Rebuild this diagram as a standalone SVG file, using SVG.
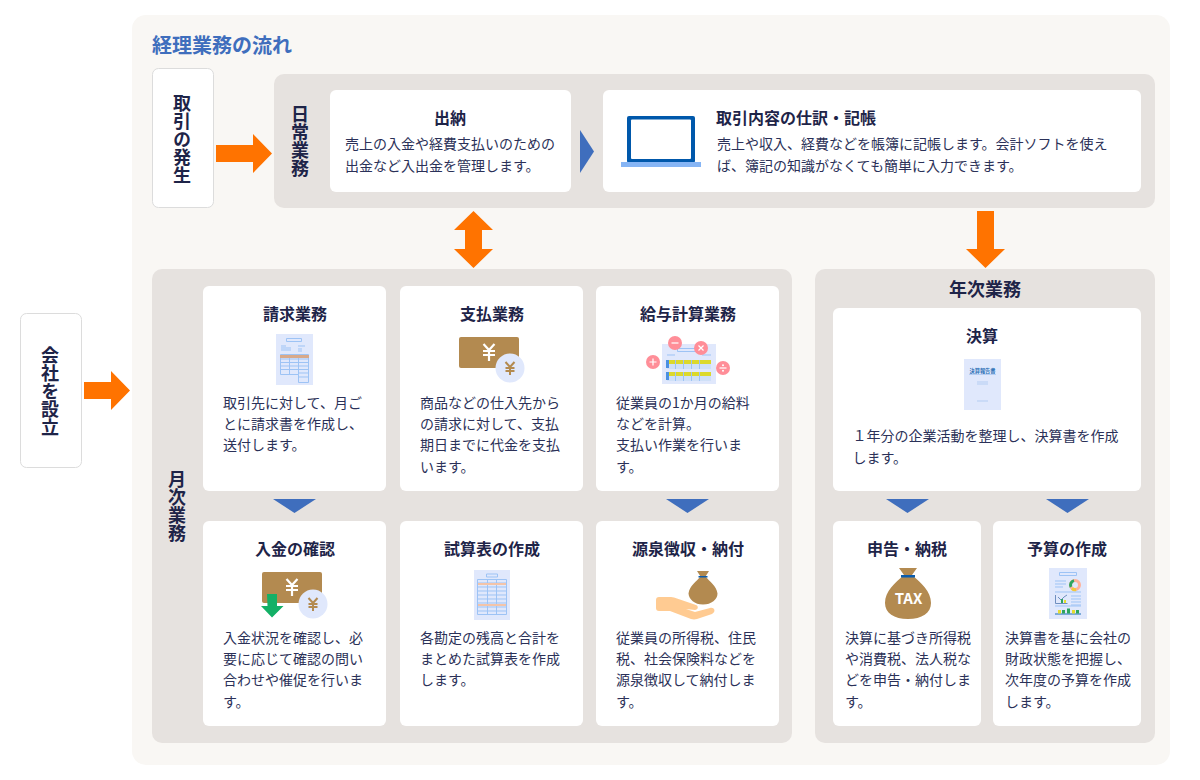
<svg xmlns="http://www.w3.org/2000/svg" width="1200" height="780" viewBox="0 0 1200 780">
<style>
text{font-family:"Noto Sans CJK JP","Noto Sans",sans-serif;fill:#1e2448}
.t{font-size:16px;font-weight:700;text-anchor:middle}
.b{font-size:14px;fill:#2b3158}
.v{font-size:18px;font-weight:700;writing-mode:vertical-rl;text-anchor:middle}
.card{fill:#fff}
.panel{fill:#e6e2df}
.lab{fill:#fff;stroke:#dcdcdc;stroke-width:1}
.org{fill:#ff7300}
.blu{fill:#3f6ebd}
.doc{fill:#e0e8fc}
.ln{stroke:#9dc3f5;stroke-width:1;fill:none}
.yw{stroke:#fff;stroke-width:2.200;fill:none}
.yb{stroke:#b38a50;stroke-width:2;fill:none}
.br{fill:#b38a50}
.pk{fill:#ff8e98}
.pw{stroke:#fff;stroke-width:1.200;fill:none}
</style>
<rect width="1200" height="780" fill="#fff"/>
<rect id="bg" x="132" y="15" width="1038" height="750" rx="14" fill="#f9f7f4"/>
<text id="heading" x="152" y="53" font-size="20" font-weight="700" style="fill:#3f6ebd">経理業務の流れ</text>

<g id="node-occur"><rect class="lab" x="152.500" y="68.500" width="61" height="139" rx="6"/><text class="v" x="182" y="139">取引の発生</text></g>
<g id="node-company"><rect class="lab" x="20.500" y="313.500" width="61" height="154" rx="6"/><text class="v" x="50" y="391">会社を設立</text></g>

<g id="panel-daily"><rect class="panel" x="274" y="74" width="881" height="134" rx="10"/><text class="v" x="300" y="141">日常業務</text></g>
<g id="panel-monthly"><rect class="panel" x="152" y="269" width="640" height="474" rx="10"/><text class="v" x="177" y="506">月次業務</text></g>
<g id="panel-annual"><rect class="panel" x="815" y="269" width="340" height="474" rx="10"/><text x="985" y="296" font-size="18" font-weight="700" text-anchor="middle">年次業務</text></g>

<g id="node-cash"><rect class="card" x="330" y="90" width="241" height="102" rx="6"/>
<text class="t" x="450" y="124">出納</text>
<text class="b" x="345" y="149">売上の入金や経費支払いのための</text><text class="b" x="345" y="171">出金など入出金を管理します。</text></g>

<g id="node-journal"><rect class="card" x="603" y="90" width="538" height="102" rx="6"/>
<rect x="627" y="116" width="68" height="47" rx="2" fill="#0058ab"/>
<rect x="631" y="119.500" width="60" height="39.500" rx="1" fill="#fff"/>
<rect x="621" y="162" width="80" height="5" fill="#86b5f5"/>
<text class="t" x="716" y="124" style="text-anchor:start">取引内容の仕訳・記帳</text>
<text class="b" x="717" y="149">売上や収入、経費などを帳簿に記帳します。会計ソフトを使え</text><text class="b" x="717" y="171">ば、簿記の知識がなくても簡単に入力できます。</text></g>

<g id="node-invoice"><rect class="card" x="203" y="286" width="183" height="205" rx="6"/>
<text class="t" x="295" y="320">請求業務</text>
<rect class="doc" x="276" y="334" width="37" height="51"/>
<path class="ln" d="M286.500 338.500h15v3h-15zM281 346h5M281 348h10M281 350h10M298 346h7M298 349h4M298 351h4M280.500 354.500h28v28h-10v-8M280.500 354.500v20h18M280.500 359h28M280.500 362.500h28M280.500 366h28M280.500 369.500h28M298.500 373h10M298.500 377h10M289.500 354.500v20M298.500 354.500v20"/>
<rect x="280" y="355" width="29" height="3" fill="#d8a98a"/>
<text class="b" x="223" y="408">取引先に対して、月ご</text><text class="b" x="223" y="429">とに請求書を作成し、</text><text class="b" x="223" y="450">送付します。</text></g>

<g id="node-payment"><rect class="card" x="400" y="286" width="183" height="205" rx="6"/>
<text class="t" x="492" y="320">支払業務</text>
<rect class="br" x="459" y="337" width="60" height="31" rx="2"/>
<path class="yw" d="M483.500 344l5.500 6 5.500-6M489 350v11M483 351h12M483 355h12"/>
<circle cx="510" cy="368" r="14.500" fill="#e0e8fc"/>
<path class="yb" d="M505.500 362l4.500 5 4.500-5M510 367v8M505.500 368h9M505.500 371h9"/>
<text class="b" x="420" y="408">商品などの仕入先から</text><text class="b" x="420" y="429">の請求に対して、支払</text><text class="b" x="420" y="450">期日までに代金を支払</text><text class="b" x="420" y="472">います。</text></g>

<g id="node-salary"><rect class="card" x="596" y="286" width="183" height="205" rx="6"/>
<text class="t" x="688" y="320">給与計算業務</text>
<rect class="doc" x="662" y="344" width="54" height="40"/>
<path class="ln" d="M677.500 348.500h20v3h-20zM667 355h8M702 355h9"/>
<rect x="667" y="360" width="44" height="9" fill="#cfe0f8"/><rect x="667" y="360" width="44" height="4" fill="#dcd92c"/><rect x="666" y="360" width="3" height="8" fill="#4a90e2"/>
<rect x="667" y="372" width="44" height="9" fill="#cfe0f8"/><rect x="667" y="372" width="44" height="4" fill="#dcd92c"/><rect x="666" y="372" width="3" height="8" fill="#4a90e2"/>
<path class="ln" d="M675.500 360v9M683.500 360v9M691.500 360v9M699.500 360v9M675.500 372v9M683.500 372v9M691.500 372v9M699.500 372v9"/>
<circle class="pk" cx="675" cy="343" r="7"/><path class="pw" d="M671.500 343h7"/>
<circle class="pk" cx="701" cy="348" r="7"/><path class="pw" d="M698.500 345.500l5 5M703.500 345.500l-5 5"/>
<circle class="pk" cx="653" cy="362" r="7"/><path class="pw" d="M649.500 362h7M653 358.500v7"/>
<circle class="pk" cx="723" cy="368" r="7"/><path class="pw" d="M719.500 368h7"/><circle cx="723" cy="365.300" r="1" fill="#fff"/><circle cx="723" cy="370.700" r="1" fill="#fff"/>
<text class="b" x="616" y="408">従業員の1か月の給料</text><text class="b" x="616" y="429">などを計算。</text><text class="b" x="616" y="450">支払い作業を行いま</text><text class="b" x="616" y="472">す。</text></g>

<g id="node-receipt"><rect class="card" x="203" y="521" width="183" height="205" rx="6"/>
<text class="t" x="295" y="555">入金の確認</text>
<rect class="br" x="262" y="572" width="60" height="31" rx="2"/>
<path class="yw" d="M286.500 579l5.500 6 5.500-6M292 585v11M286 586h12M286 590h12"/>
<circle cx="313" cy="604" r="14.500" fill="#e0e8fc"/>
<path class="yb" d="M308.500 598l4.500 5 4.500-5M313 603v8M308.500 604h9M308.500 607h9"/>
<path fill="#14b066" d="M267 594h10v12h6.500l-11.500 11.500-11-11.500h6.500z"/>
<text class="b" x="223" y="643">入金状況を確認し、必</text><text class="b" x="223" y="664">要に応じて確認の問い</text><text class="b" x="223" y="685">合わせや催促を行いま</text><text class="b" x="223" y="707">す。</text></g>

<g id="node-trial"><rect class="card" x="400" y="521" width="183" height="205" rx="6"/>
<text class="t" x="492" y="555">試算表の作成</text>
<rect class="doc" x="474" y="570" width="36" height="50"/>
<path class="ln" d="M486.500 574h11v3h-11zM477.500 579.500h29v35h-29zM477.500 583h29M477.500 587h29M477.500 591h29M477.500 595h29M477.500 599h29M477.500 603h29M477.500 607h29M477.500 611h29M487.500 579.500v35M496.500 579.500v35"/>
<rect x="478" y="583" width="28" height="2" fill="#f4c4a8"/><rect x="478" y="604" width="28" height="2" fill="#f4c4a8"/>
<text class="b" x="420" y="643">各勘定の残高と合計を</text><text class="b" x="420" y="664">まとめた試算表を作成</text><text class="b" x="420" y="685">します。</text></g>

<g id="node-withhold"><rect class="card" x="596" y="521" width="183" height="205" rx="6"/>
<text class="t" x="688" y="555">源泉徴収・納付</text>
<path class="br" d="M697 571h12l-3.500 5.500c4 5 11 9 12 17 0 6-6 11-14.500 11s-14-5-14.500-11c1-8 8-12 12-17z"/>
<rect x="698.500" y="576" width="9" height="1.500" fill="#0b5cad"/>
<path fill="#ffcb92" d="M659 597h12c2 0 4 .5 6 1.500l19 6.500c3 1 2 5-1 5l-9-1 9 3 15-4c5-1 6 4 2 6l-15 5c-2 .5-4 .5-6 0l-21-8h-11c-2 0-3-1-3-3v-8c0-2 1-3 3-3z"/>
<text class="b" x="616" y="643">従業員の所得税、住民</text><text class="b" x="616" y="664">税、社会保険料などを</text><text class="b" x="616" y="685">源泉徴収して納付しま</text><text class="b" x="616" y="707">す。</text></g>

<g id="node-closing"><rect class="card" x="833" y="308" width="308" height="183" rx="6"/>
<text class="t" x="982" y="342">決算</text>
<rect class="doc" x="964" y="359" width="37" height="51"/>
<text x="982.500" y="373" font-size="5.200" font-weight="700" text-anchor="middle" style="fill:#2a6fb5">決算報告書</text>
<path stroke="#b4cdf2" stroke-width="1" d="M969 374.500h27M977 382h11M977 384h11M977 401h11" fill="none"/>
<text class="b" x="852.500" y="441">１年分の企業活動を整理し、決算書を作成</text><text class="b" x="852.500" y="463">します。</text></g>

<g id="node-tax"><rect class="card" x="833" y="521" width="148" height="205" rx="6"/>
<text class="t" x="907" y="555">申告・納税</text>
<path class="br" d="M899 568h18l-5 7c9 8 19 16 19 28 0 10-9 16-23 16s-23-6-23-16c0-12 10-20 19-28z"/>
<rect x="901" y="575" width="14" height="2.500" fill="#0b5cad"/>
<text x="908.500" y="604" font-size="15" font-weight="700" text-anchor="middle" style="fill:#fff">TAX</text>
<text class="b" x="845" y="643">決算に基づき所得税</text><text class="b" x="845" y="664">や消費税、法人税な</text><text class="b" x="845" y="685">どを申告・納付しま</text><text class="b" x="845" y="707">す。</text></g>

<g id="node-budget"><rect class="card" x="993" y="521" width="148" height="205" rx="6"/>
<text class="t" x="1067" y="555">予算の作成</text>
<rect class="doc" x="1049" y="568" width="38" height="51"/>
<path class="ln" d="M1059.500 572.500h17v3h-17zM1055 581h11M1055 584h11M1055 587h8M1055 592h26M1071 596h10M1071 599h10M1071 602h10M1071 605h10M1055 606h26"/>
<circle cx="1075" cy="585" r="4.500" fill="none" stroke="#ffb199" stroke-width="3"/>
<path d="M1071 587a4.500 4.500 0 0 1 3-6.400" fill="none" stroke="#2ea55f" stroke-width="3"/>
<path d="M1072 588.500a4.500 4.500 0 0 0 4 1" fill="none" stroke="#f2c83a" stroke-width="3"/>
<path d="M1055.500 595v8.500h12" fill="none" stroke="#6f8fbf"/>
<path d="M1058 597l3 3 3-3 3-2" fill="none" stroke="#6f8fbf"/>
<path d="M1061 599h2v4h-2z" fill="#2ea55f"/><path d="M1064 600h2v3h-2z" fill="#e6dc2e"/>
<path d="M1055 614h26" stroke="#1b6fb8" stroke-width="1"/>
<path d="M1058 610h3v3.500h-3zM1072 610h3v3.500h-3z" fill="#e6dc2e"/><path d="M1062 610h3v3.500h-3zM1067 608.500h3v5h-3zM1076 610h3v3.500h-3z" fill="#2ea55f"/>
<text class="b" x="1005" y="643">決算書を基に会社の</text><text class="b" x="1005" y="664">財政状態を把握し、</text><text class="b" x="1005" y="685">次年度の予算を作成</text><text class="b" x="1005" y="707">します。</text></g>

<g id="connectors">
<path class="org" d="M216 145h37v-11l19 19.500-19 19.500v-11h-37z"/>
<path class="org" d="M84 382h27v-11l19 19.500-19 19.500v-11h-27z"/>
<path class="blu" d="M580 130l14 21.500-14 21.500z"/>
<path class="org" d="M473.500 211l19.500 19h-11v19h11l-19.500 19-19.500-19h11v-19h-11z"/>
<path class="org" d="M977 211h17v38h11l-19.500 19-19.500-19h11z"/>
<path class="blu" d="M273 499h43l-21.500 14z"/>
<path class="blu" d="M666 499h43l-21.500 14z"/>
<path class="blu" d="M886 499h43l-21.500 14z"/>
<path class="blu" d="M1046 499h43l-21.500 14z"/>
</g>
</svg>
